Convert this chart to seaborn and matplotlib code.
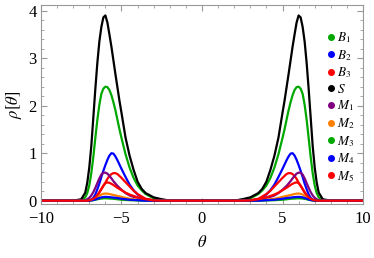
import numpy as np
import pandas as pd
import matplotlib
matplotlib.use("Agg")
import matplotlib.pyplot as plt
import seaborn as sns
from matplotlib.lines import Line2D
from matplotlib.ticker import MultipleLocator

# theta grid for the right-hand peak (the left one is its mirror image)
theta = [0, 2.0, 2.5, 3.0, 3.5, 3.75, 4.0, 4.25, 4.5, 4.75,
         5.0, 5.125, 5.25, 5.375, 5.5, 5.625, 5.75, 5.875, 6.0, 6.125,
         6.25, 6.375, 6.5, 6.625, 6.75, 6.875, 7.0, 7.125, 7.25, 7.5, 8.0, 10]

rho_B1 = [0, 0, 0.02, 0.05, 0.14, 0.22, 0.32, 0.48, 0.7, 0.98,
          1.32, 1.5, 1.7, 1.9, 2.07, 2.22, 2.33, 2.39, 2.4, 2.36,
          2.25, 2.02, 1.7, 1.32, 0.92, 0.58, 0.32, 0.16, 0.07, 0.01, 0, 0]
rho_B2 = [0, 0, 0, 0.005, 0.03, 0.07, 0.13, 0.22, 0.34, 0.5,
          0.67, 0.76, 0.85, 0.93, 0.99, 1.0, 0.95, 0.86, 0.75, 0.63,
          0.5, 0.36, 0.24, 0.13, 0.06, 0.025, 0.01, 0, 0, 0, 0, 0]
rho_B3 = [0, 0, 0, 0.01, 0.04, 0.09, 0.14, 0.21, 0.3, 0.39,
          0.48, 0.52, 0.56, 0.58, 0.58, 0.56, 0.52, 0.46, 0.38, 0.31,
          0.24, 0.17, 0.1, 0.05, 0.02, 0.01, 0, 0, 0, 0, 0, 0]
rho_S = [0, 0, 0.03, 0.07, 0.16, 0.25, 0.4, 0.65, 0.95, 1.33,
         1.85, 2.1, 2.38, 2.66, 2.95, 3.24, 3.5, 3.75, 3.9, 3.86,
         3.66, 3.35, 2.9, 2.35, 1.75, 1.15, 0.7, 0.38, 0.17, 0.03, 0, 0]
rho_M1 = [0, 0, 0, 0.005, 0.02, 0.04, 0.06, 0.08, 0.11, 0.16,
          0.23, 0.27, 0.31, 0.36, 0.41, 0.47, 0.52, 0.57, 0.59, 0.59,
          0.55, 0.47, 0.37, 0.27, 0.18, 0.11, 0.06, 0.03, 0.01, 0, 0, 0]
rho_M2 = [0, 0, 0, 0, 0.01, 0.015, 0.02, 0.03, 0.04, 0.06,
          0.08, 0.09, 0.1, 0.11, 0.12, 0.13, 0.14, 0.148, 0.15, 0.145,
          0.13, 0.105, 0.08, 0.055, 0.03, 0.015, 0.01, 0, 0, 0, 0, 0]
rho_M3 = [0, 0, 0, 0, 0, 0, 0.005, 0.008, 0.01, 0.015,
          0.02, 0.025, 0.03, 0.035, 0.04, 0.043, 0.045, 0.048, 0.05, 0.048,
          0.045, 0.038, 0.03, 0.02, 0.01, 0.005, 0, 0, 0, 0, 0, 0]
rho_M4 = [0, 0, 0, 0, 0, 0.005, 0.01, 0.015, 0.02, 0.03,
          0.04, 0.048, 0.055, 0.06, 0.065, 0.07, 0.075, 0.078, 0.08, 0.077,
          0.07, 0.056, 0.04, 0.026, 0.015, 0.007, 0, 0, 0, 0, 0, 0]
rho_M5 = [0, 0, 0, 0.005, 0.03, 0.05, 0.07, 0.1, 0.13, 0.17,
          0.22, 0.245, 0.27, 0.3, 0.33, 0.355, 0.375, 0.385, 0.37, 0.32,
          0.25, 0.18, 0.12, 0.07, 0.04, 0.02, 0.01, 0, 0, 0, 0, 0]

names = ["$B_1$", "$B_2$", "$B_3$", "$S$", "$M_1$", "$M_2$", "$M_3$", "$M_4$", "$M_5$"]
series = [rho_B1, rho_B2, rho_B3, rho_S, rho_M1, rho_M2, rho_M3, rho_M4, rho_M5]
colors = ["#00a800", "#0000ff", "#ff0000", "#000000", "#800080",
          "#ff8000", "#00a800", "#0000ff", "#ff0000"]

# long-form table, both peaks
full_theta = [-t for t in theta[:0:-1]] + theta
rows = []
for name, vals in zip(names, series):
    full_vals = vals[:0:-1] + vals
    for t, v in zip(full_theta, full_vals):
        rows.append({"theta": t, "rho": v, "series": name})
df = pd.DataFrame(rows)

sns.set_style("ticks")
plt.rcParams["font.family"] = ["Liberation Serif", "DejaVu Serif"]
plt.rcParams["mathtext.fontset"] = "stix"
plt.rcParams["text.color"] = "black"
plt.rcParams["axes.labelcolor"] = "black"

fig = plt.figure(figsize=(3.74, 2.58), dpi=100)
ax = fig.add_axes([0.1096, 0.2093, 0.861, 0.7713])

for name, col in zip(names, colors):
    sns.lineplot(data=df[df["series"] == name], x="theta", y="rho", color=col,
                 lw=1.6, ax=ax, legend=False, sort=False)

ax.set_xlim(-10, 10)
ax.set_ylim(-0.07, 4.12)
ax.xaxis.set_major_locator(MultipleLocator(5))
ax.xaxis.set_minor_locator(MultipleLocator(1))
ax.yaxis.set_major_locator(MultipleLocator(1))
ax.yaxis.set_minor_locator(MultipleLocator(0.2))
ax.tick_params(which="both", direction="in", top=True, right=True,
               color="#999999", labelcolor="black", labelsize=12)
ax.tick_params(axis="x", pad=5)
ax.tick_params(axis="y", pad=3)
ax.tick_params(which="major", length=4, width=0.8)
ax.tick_params(which="minor", length=2.2, width=0.6)
for sp in ax.spines.values():
    sp.set_color("#999999")
    sp.set_linewidth(0.8)

ax.set_xlabel(r"$\theta$", fontsize=12, labelpad=6)
ax.set_ylabel(r"$\rho[\theta]$", fontsize=12, labelpad=3)

handles = [Line2D([], [], ls="", marker="o", ms=4, color=c) for c in colors]
ax.legend(handles, names, loc="upper right", bbox_to_anchor=(0.99, 0.9),
          frameon=False, fontsize=9.5, handlelength=0.6, handletextpad=0.15,
          labelspacing=0.21, borderaxespad=0, labelcolor="black")

fig.savefig("out.png", dpi=100)
